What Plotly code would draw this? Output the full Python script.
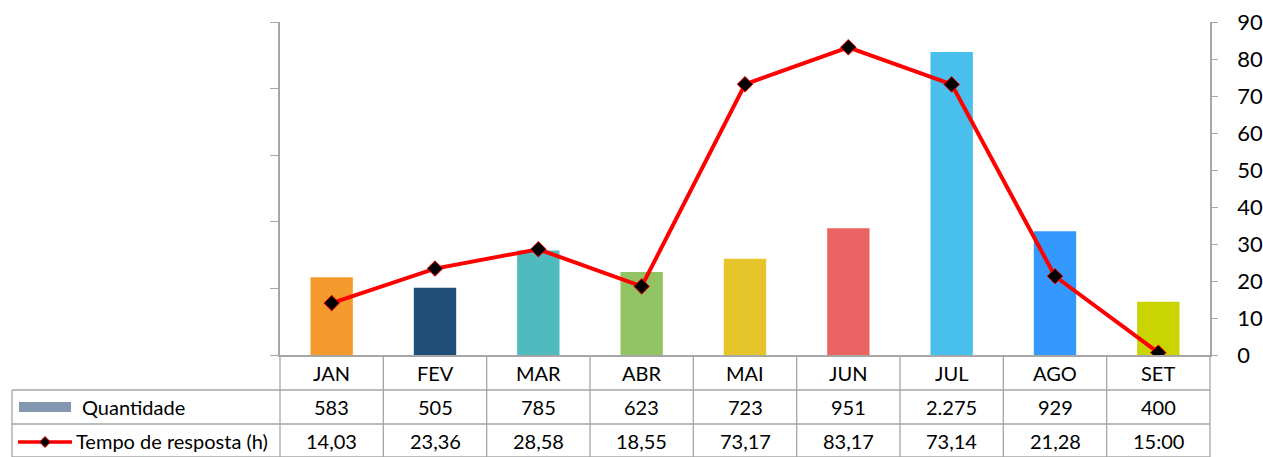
import plotly.graph_objects as go

months = ["JAN", "FEV", "MAR", "ABR", "MAI", "JUN", "JUL", "AGO", "SET"]
quantidade = [583, 505, 785, 623, 723, 951, 2275, 929, 400]
quantidade_labels = ["583", "505", "785", "623", "723", "951", "2.275", "929", "400"]
tempo = [14.03, 23.36, 28.58, 18.55, 73.17, 83.17, 73.14, 21.28, 0.625]
tempo_labels = ["14,03", "23,36", "28,58", "18,55", "73,17", "83,17", "73,14", "21,28", "15:00"]
bar_colors = ["#F59B2E", "#1F4E79", "#4FBBBF", "#92C464", "#E6C52A",
              "#EA6464", "#48BFEC", "#3399FF", "#C9D400"]

W, H = 1263, 457
L, R, T, B = 280, 1210, 22, 355
FONT = "Lato"
GRID = "#A6A6A6"


def px(x):
    return (x - L) / (R - L)


def py(y):
    return (B - y) / (B - T)


fig = go.Figure()
fig.add_trace(go.Bar(x=months, y=quantidade, marker=dict(color=bar_colors, line=dict(width=0)),
                     width=0.41, name="Quantidade", yaxis="y"))
fig.add_trace(go.Scatter(x=months, y=tempo, mode="lines+markers", yaxis="y2",
                         name="Tempo de resposta (h)",
                         line=dict(color="#FF0000", width=4),
                         marker=dict(symbol="diamond", size=12, color="black",
                                     line=dict(color="#FF0000", width=1))))

shapes = []
annotations = []
n = len(months)
colw = (R - L) / n
row_y = [355, 390, 424, 457]
for k in range(n + 1):
    x = L + k * colw
    shapes.append(dict(type="line", xref="paper", yref="paper", x0=px(x), x1=px(x),
                       y0=py(355), y1=py(458), line=dict(color=GRID, width=1.3)))
for y in row_y[1:]:
    shapes.append(dict(type="line", xref="paper", yref="paper", x0=px(12), x1=px(R),
                       y0=py(y), y1=py(y), line=dict(color=GRID, width=1.3)))
shapes.append(dict(type="line", xref="paper", yref="paper", x0=px(12), x1=px(12),
                   y0=py(390), y1=py(458), line=dict(color=GRID, width=1.3)))

# legend keys
shapes.append(dict(type="rect", xref="paper", yref="paper", x0=px(19), x1=px(71),
                   y0=py(402), y1=py(412), fillcolor="#8497B0", line=dict(width=0)))
shapes.append(dict(type="line", xref="paper", yref="paper", x0=px(18), x1=px(72),
                   y0=py(442), y1=py(442), line=dict(color="#FF0000", width=3.5)))
dcx, dcy, d = 45, 442, 5.5
diamond = (f"M {px(dcx)},{py(dcy - d)} L {px(dcx + d)},{py(dcy)} "
           f"L {px(dcx)},{py(dcy + d)} L {px(dcx - d)},{py(dcy)} Z")
shapes.append(dict(type="path", xref="paper", yref="paper", path=diamond,
                   fillcolor="black", line=dict(color="#FF0000", width=1)))

tf = dict(family=FONT, size=20, color="black")
for i, m in enumerate(months):
    cx = L + (i + 0.5) * colw
    annotations.append(dict(x=px(cx), y=py(372.5), xref="paper", yref="paper", text=m,
                            showarrow=False, font=tf, xanchor="center", yanchor="middle"))
    annotations.append(dict(x=px(cx), y=py(407), xref="paper", yref="paper",
                            text=quantidade_labels[i], showarrow=False, font=tf,
                            xanchor="center", yanchor="middle"))
    annotations.append(dict(x=px(cx), y=py(441), xref="paper", yref="paper",
                            text=tempo_labels[i], showarrow=False, font=tf,
                            xanchor="center", yanchor="middle"))
annotations.append(dict(x=px(80), y=py(407), xref="paper", yref="paper", text="Quantidade",
                        showarrow=False, font=tf, xanchor="left", yanchor="middle"))
annotations.append(dict(x=px(74), y=py(441), xref="paper", yref="paper",
                        text="Tempo de resposta (h)", showarrow=False, font=tf,
                        xanchor="left", yanchor="middle"))

fig.update_layout(
    width=W, height=H,
    margin=dict(l=L, r=W - R, t=T, b=H - B, pad=0, autoexpand=False),
    paper_bgcolor="white", plot_bgcolor="white",
    showlegend=False,
    font=dict(family=FONT, color="black"),
    xaxis=dict(showticklabels=False, showline=True, linecolor=GRID, linewidth=1.5,
               ticks="", showgrid=False, zeroline=False, range=[-0.5, n - 0.5],
               automargin=False),
    yaxis=dict(range=[0, 2500], dtick=500, showticklabels=False, ticks="outside",
               ticklen=8, tickcolor=GRID, showline=True, linecolor=GRID, linewidth=1.5,
               showgrid=False, zeroline=False, automargin=False),
    yaxis2=dict(range=[0, 90], dtick=10, overlaying="y", side="right", ticks="outside",
                ticklen=6, tickcolor=GRID, showline=True, linecolor=GRID, linewidth=1.5,
                showgrid=False, zeroline=False, tickfont=dict(family=FONT, size=22),
                ticklabelstandoff=15, automargin=False),
    shapes=shapes, annotations=annotations,
)

fig.write_html("out.html", config={"displayModeBar": False},
               post_script="document.body.style.margin='0';document.body.style.overflow='hidden';")
